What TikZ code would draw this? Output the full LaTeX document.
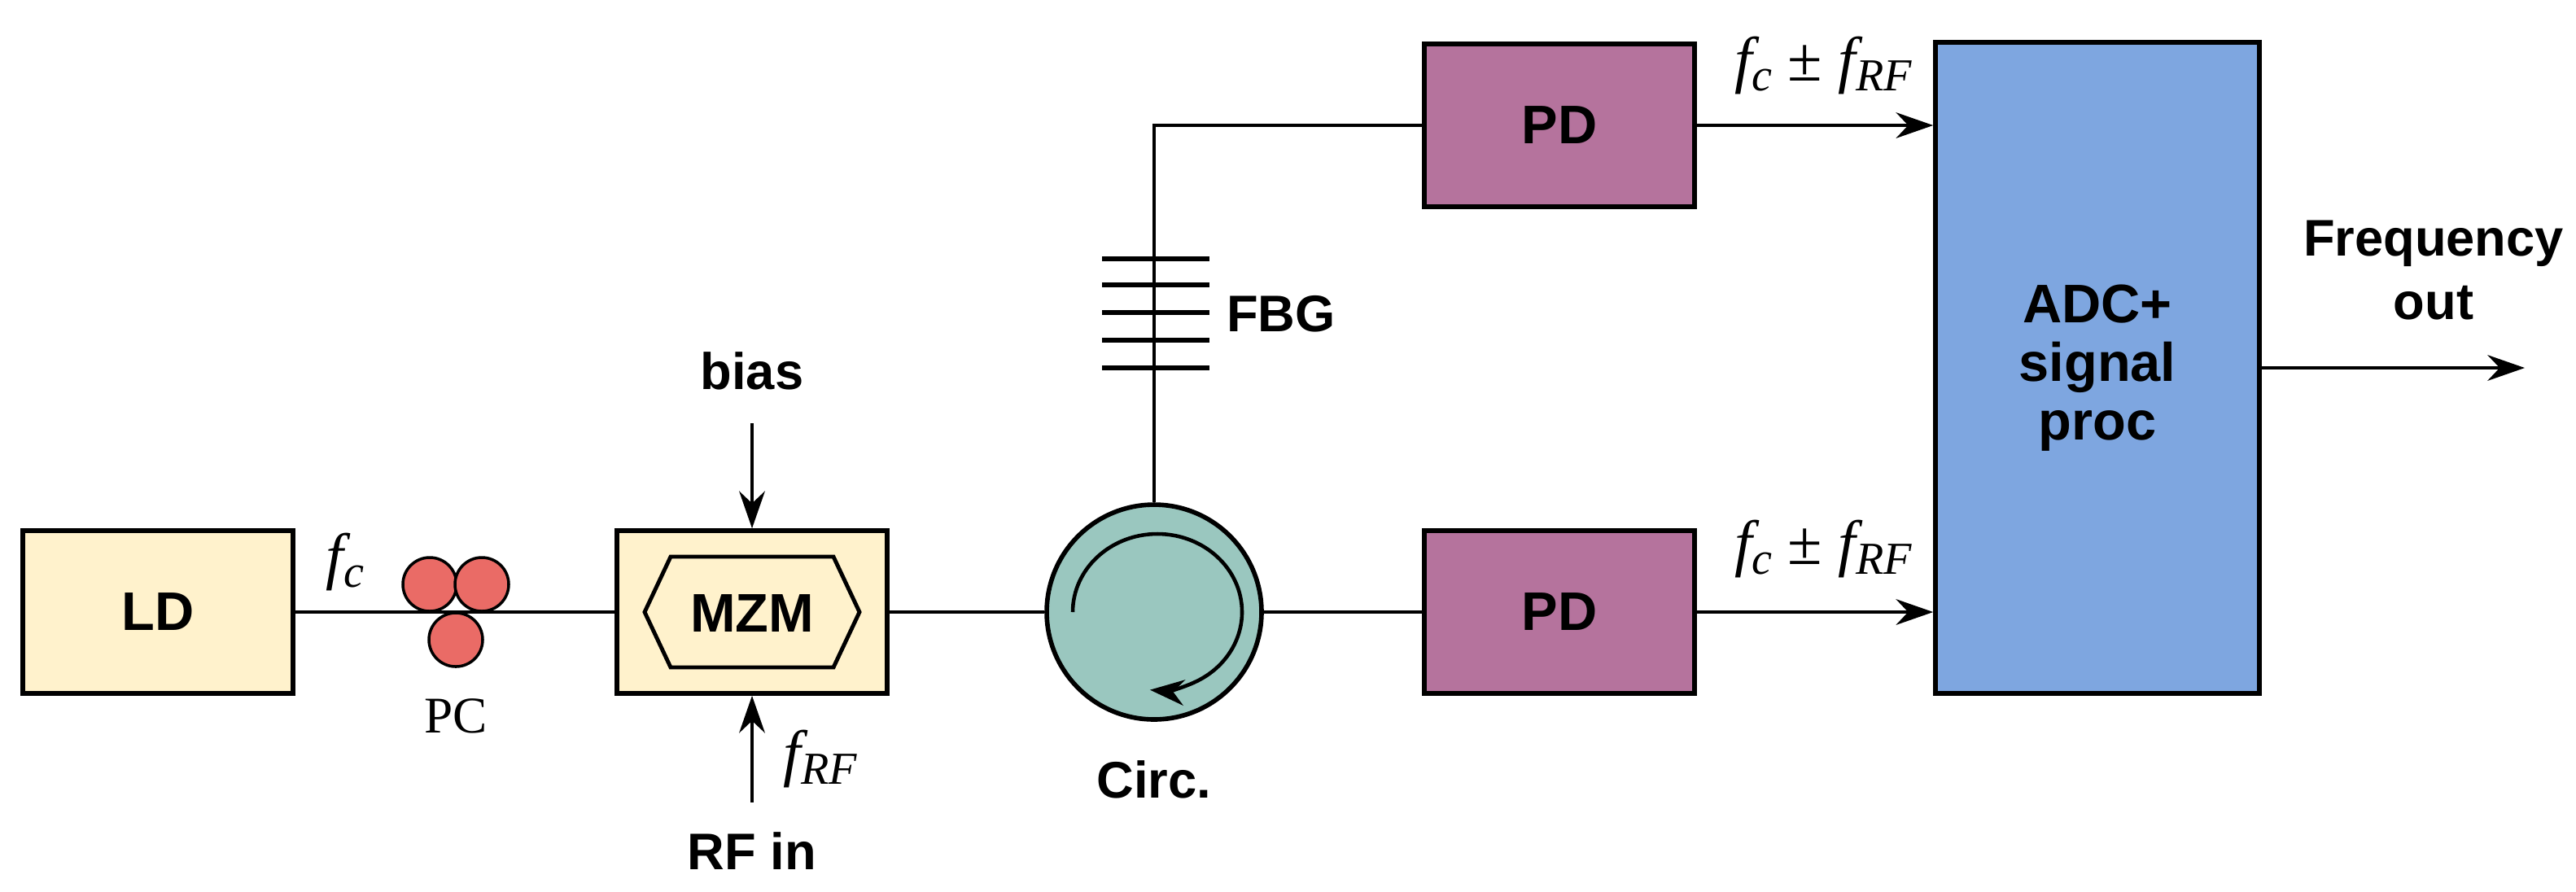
\documentclass[tikz,border=0pt]{standalone}
\usepackage{fontspec}
\setmainfont{Liberation Sans}
\newfontfamily\serif{Liberation Serif}
\usetikzlibrary{arrows.meta,shapes.geometric}
\definecolor{ldc}{HTML}{FFF2CC}
\definecolor{pdc}{HTML}{B5739D}
\definecolor{adcc}{HTML}{7EA6E0}
\definecolor{circc}{HTML}{9AC7BF}
\definecolor{pcc}{HTML}{EA6B66}
\newcommand{\mysub}[1]{\raisebox{-0.35ex}{\fontsize{16}{18}\selectfont #1}}
\begin{document}
\begin{tikzpicture}[x=0.02cm,y=-0.02cm,
  box/.style={draw,line width=1.6pt,minimum width=3.32cm,minimum height=2cm,font=\bfseries\fontsize{19}{22}\selectfont,inner sep=0pt},
  lbl/.style={font=\bfseries\fontsize{18}{22}\selectfont,align=center},
  mth/.style={font=\serif\itshape\fontsize{22}{24}\selectfont},
  wire/.style={line width=1.2pt},
  arr/.style={wire,-{Stealth[length=13pt,width=9pt]}}]
\useasboundingbox (0,0) rectangle (1582.5,547.5);
\node[box,fill=ldc] (ld) at (97,376) {LD};
\node[box,fill=ldc] (mzm) at (462,376) {};
\draw[line width=1.4pt,fill=ldc] (412,342)--(512,342)--(528,376)--(512,410)--(412,410)--(396,376)--cycle;
\node[font=\bfseries\fontsize{19}{22}\selectfont] (mzml) at (462,377) {MZM};
\node[circle,draw,line width=1.6pt,fill=circc,minimum size=2.64cm,inner sep=0pt] (circ) at (709,376) {};
\node[box,fill=pdc] (pd1) at (958,77) {PD};
\node[box,fill=pdc] (pd2) at (958,376) {PD};
\node[box,fill=adcc,minimum width=3.98cm,minimum height=8cm,align=center,font=\bfseries\fontsize{19}{20.5}\selectfont] (adc) at (1288.5,226) {ADC+\\signal\\proc};
% wires
\draw[wire] (ld.east) -- (mzm.west);
\draw[wire] (mzm.east) -- (circ.west);
\draw[wire] (circ.east) -- (pd2.west);
\coordinate (corner) at (709,77);
\draw[wire] (circ.north) -- (corner) -- (pd1.west);
% PC
\foreach \p in {(264,359),(296,359),(280,393)}
  \draw[line width=1pt,fill=pcc] \p circle (16.5);
\node[font=\serif\fontsize{18}{20}\selectfont] (pcl) at (280,440) {PC};
\node[mth] (fc) at (212,345) {f\mysub{c}};
% FBG
\foreach \yy in {159,175,192,209,226} \draw[line width=1.6pt] (677,\yy) -- (743,\yy);
\node[lbl] (fbg) at (787,193) {FBG};
% bias / RF
\node[lbl] (bias) at (462,228) {bias};
\coordinate (bs) at (462,260);
\draw[arr] (bs) -- (mzm.north);
\coordinate (rfs) at (462,493);
\draw[arr] (rfs) -- (mzm.south);
\node[lbl] (rfin) at (462,523) {RF in};
\node[mth] (frf) at (504,466) {f\mysub{RF}};
% circulator arrow
\draw[line width=1.3pt,-{Stealth[length=12pt,width=9pt]}] (659,376) arc[start angle=180,end angle=455,x radius=52,y radius=48];
\node[lbl] (cl) at (709,479) {Circ.};
% PD -> ADC
\draw[arr] (pd1.east) -- (adc.west |- pd1.east);
\draw[arr] (pd2.east) -- (adc.west |- pd2.east);
\node[mth] (l1) at (1120,40) {f\mysub{c} {\upshape ±} f\mysub{RF}};
\node[mth] (l2) at (1120,337) {f\mysub{c} {\upshape ±} f\mysub{RF}};
\coordinate (out) at (1551,226);
\draw[arr] (adc.east |- out) -- (out);
\node[lbl] (fo) at (1495,166) {Frequency\\out};
\end{tikzpicture}
\end{document}
